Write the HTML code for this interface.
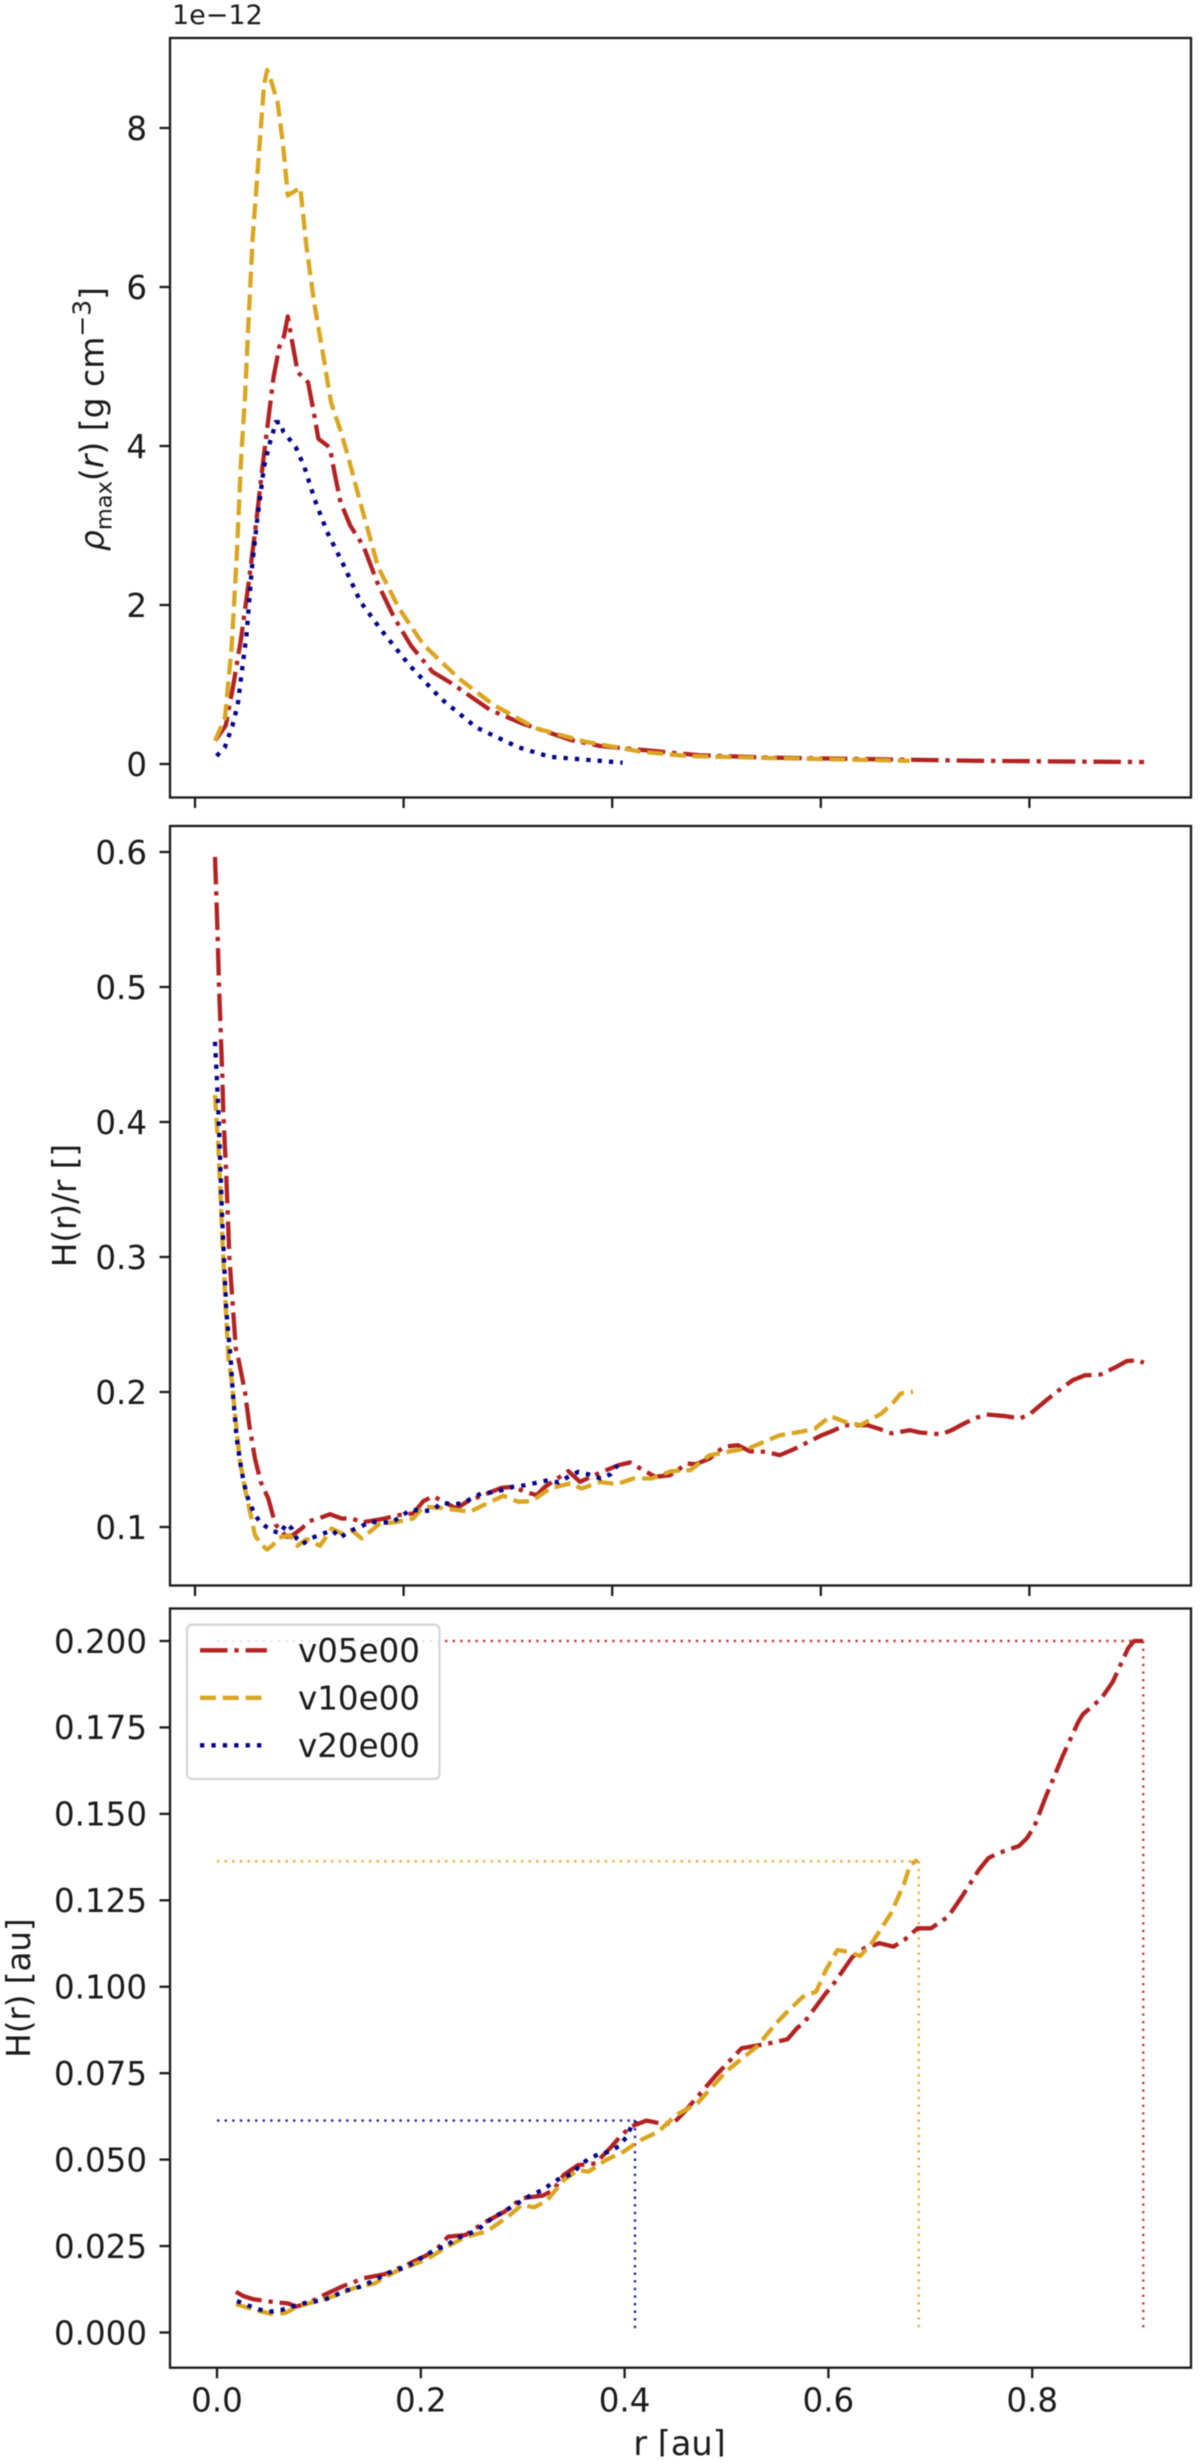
<!DOCTYPE html>
<html lang="en">
<head>
<meta charset="utf-8">
<title>Disc profiles</title>
<style>
html,body{margin:0;padding:0;background:#fff;width:1200px;height:2463px;overflow:hidden}
svg{display:block;filter:blur(0.6px)}
text{font-family:"DejaVu Sans","Liberation Sans",sans-serif;fill:#1a1a1a}
</style>
</head>
<body>
<svg id="chart" xmlns="http://www.w3.org/2000/svg" width="1200" height="2463" viewBox="0 0 1200 2463"></svg>
<script>
const xTicks = [0, 0.2, 0.4, 0.6, 0.8];
const xTickLabels = ['0.0', '0.2', '0.4', '0.6', '0.8'];
const rhoTicks = [0, 2, 4, 6, 8];
const rhoTickLabels = ['0', '2', '4', '6', '8'];
const ratioTicks = [0.1, 0.2, 0.3, 0.4, 0.5, 0.6];
const ratioTickLabels = ['0.1', '0.2', '0.3', '0.4', '0.5', '0.6'];
const heightTicks = [0, 0.025, 0.05, 0.075, 0.1, 0.125, 0.15, 0.175, 0.2];
const heightTickLabels = ['0.000', '0.025', '0.050', '0.075', '0.100', '0.125', '0.150', '0.175', '0.200'];
const seriesNames = ['v05e00', 'v10e00', 'v20e00'];

const rhoRedR = [.0193,.0295,.0368,.0442,.0516,.0589,.0644,.0699,.0754,.0809,.0853,.0890,.0926,.0985,.1084,.1139,.1183,.1293,.1341,.1396,.1488,.1616,.1745,.1910,.2075,.2277,.2460,.2830,.3133,.3604,.3883,.484,.55,.65,.75,.85,.91];
const rhoRedV = [.293,.486,1.0,1.58,2.29,3.06,3.71,4.29,4.87,5.25,5.38,5.63,5.35,4.93,4.80,4.42,4.09,3.98,3.64,3.29,3.0,2.74,2.29,1.84,1.48,1.16,1.015,.679,.512,.302,.227,.11,.08,.06,.04,.03,.025];
const rhoGoldR = [.0193,.0288,.0350,.0398,.0442,.0479,.0516,.0552,.0607,.0662,.0691,.0735,.0794,.0846,.0890,.1010,.1066,.1139,.1231,.1304,.1396,.1467,.1587,.1755,.1955,.2192,.2528,.2864,.3268,.3741,.4275,.4713,.55,.685];
const rhoGoldV = [.293,.583,1.45,2.55,3.84,4.61,5.64,6.60,7.57,8.54,8.73,8.57,8.31,7.77,7.15,7.25,6.54,5.83,5.13,4.55,4.19,3.87,3.28,2.48,1.96,1.497,1.078,.742,.449,.28,.155,.10,.075,.04];
const rhoBlueR = [.0207,.0285,.0359,.0410,.0450,.0494,.0544,.0594,.0662,.0712,.0746,.0773,.0820,.0847,.0965,.1048,.1150,.1267,.1418,.1587,.1788,.2058,.2360,.2696,.3100,.3403,.4100];
const rhoBlueV = [.101,.206,.48,.75,1.17,1.62,2.44,3.05,3.74,4.02,4.16,4.30,4.30,4.18,3.99,3.74,3.32,2.92,2.52,2.04,1.68,1.24,.82,.46,.21,.09,.016];

const ratioRedR = [.0192,.0201,.0218,.0230,.0246,.0262,.0271,.030,.033,.0391,.0415,.0479,.0521,.0575,.0630,.0703,.0751,.0777,.0879,.0927,.1023,.1093,.1182,.1294,.1406,.1508,.1598,.1822,.1934,.2093,.2189,.2285,.2413,.2509,.2605,.2764,.2940,.3052,.3164,.3276,.3356,.3500,.3579,.3691,.3867,.4059,.4171,.4410,.4554,.4650,.4714,.4800,.4934,.5069,.5203,.5321,.5472,.5607,.5741,.6010,.6128,.6229,.6448,.6548,.6683,.6851,.6951,.7153,.7254,.7373,.7490,.7590,.7776,.7910,.8011,.8163,.8264,.8415,.8533,.8684,.8835,.8930,.9037,.9098];
const ratioRedV = [.5964,.5754,.5359,.5013,.4668,.4347,.4075,.36,.30,.2322,.2248,.2001,.1754,.1507,.1334,.1211,.1075,.1013,.0927,.0935,.0989,.1043,.1063,.1095,.1063,.1063,.1033,.1063,.1087,.11,.1191,.1228,.1174,.1137,.1187,.1236,.1290,.1298,.1261,.1236,.1298,.1372,.1414,.1335,.1396,.1458,.1478,.1372,.1384,.1433,.1470,.1465,.1507,.1594,.1606,.1561,.1557,.1532,.1576,.1680,.1717,.1754,.1754,.1730,.1693,.1717,.1700,.1687,.1717,.1767,.1809,.1833,.1821,.1804,.1841,.1939,.2002,.2087,.2124,.2130,.2187,.2228,.2236,.2216];
const ratioGoldR = [.0192,.0225,.027,.0320,.0352,.0384,.0431,.0479,.0527,.0575,.0639,.0693,.0745,.0799,.0911,.0981,.1071,.1198,.1311,.1406,.1502,.1598,.1774,.1901,.2093,.2189,.2349,.2637,.2797,.2956,.3100,.3228,.3404,.3595,.3708,.3883,.4043,.4203,.4379,.4564,.4749,.4934,.5136,.5321,.5607,.5808,.5943,.6094,.6229,.6380,.6582,.6700,.6767,.6884];
const ratioGoldV = [.4199,.38,.30,.2248,.2087,.1828,.1483,.1285,.1113,.0939,.0865,.0833,.0865,.092,.0939,.0861,.091,.0861,.0989,.0952,.0976,.0915,.1026,.1033,.1063,.115,.1142,.1113,.1174,.1231,.1187,.1191,.1285,.1322,.1285,.1333,.1317,.1359,.1359,.1413,.1421,.1532,.1561,.1587,.168,.1705,.173,.1821,.1779,.1754,.1841,.1927,.1989,.2002];
const ratioBlueR = [.0192,.0208,.0223,.026,.030,.0342,.0361,.0400,.0448,.0496,.0575,.0639,.0729,.0815,.0879,.0927,.0975,.1029,.1125,.1230,.1317,.1390,.1486,.1582,.1678,.1886,.1982,.2071,.2173,.2279,.2365,.2461,.2557,.2653,.2742,.2845,.2946,.3052,.3164,.3269,.3388,.3484,.3579,.3675,.3778,.3890,.3986,.4053];
const ratioBlueV = [.4594,.4347,.41,.33,.26,.2248,.2001,.1656,.1409,.1236,.1087,.1026,.0976,.0952,.1026,.0989,.0915,.0873,.092,.0952,.0976,.092,.0971,.1,.1038,.1031,.1083,.113,.1117,.1124,.1181,.1169,.1174,.1211,.1248,.1256,.1273,.1298,.131,.1327,.1347,.133,.1372,.1409,.1389,.1359,.1391,.1458];

const heightRedR = [.0185,.0255,.0358,.0530,.0702,.0771,.0891,.1029,.1235,.1443,.1649,.1855,.2062,.2165,.2268,.2441,.2612,.2819,.2991,.3197,.3301,.3404,.3543,.3714,.3869,.3955,.4058,.4213,.4316,.4471,.4574,.4671,.49,.5148,.5411,.5598,.5692,.5767,.5974,.6030,.6237,.6349,.6500,.6639,.6744,.6875,.7007,.7176,.7308,.7477,.7570,.7664,.7870,.7946,.8021,.8133,.8303,.8453,.8498,.8678,.8791,.8941,.8998,.909];
const heightRedV = [.0118,.0106,.0096,.0089,.0084,.0075,.0084,.0106,.0134,.0157,.0169,.0195,.0224,.0244,.0277,.0282,.0316,.0349,.0388,.0396,.0412,.0456,.0484,.0489,.0537,.0566,.0595,.0613,.0607,.0603,.0634,.0667,.0745,.0822,.0836,.0848,.088,.0899,.0981,.1,.1087,.1111,.1126,.1116,.1135,.1169,.1169,.1203,.126,.1338,.1372,.1386,.1407,.1429,.1463,.155,.167,.1767,.1788,.1834,.1882,.1979,.2,.2];
const heightGoldR = [.0185,.0375,.0530,.0667,.0788,.0961,.1133,.1339,.1546,.1752,.2062,.2234,.2441,.2647,.2854,.2991,.3112,.3233,.3404,.3543,.3646,.3817,.3989,.4161,.4333,.4505,.4713,.50,.5298,.5486,.5598,.5749,.5880,.5974,.6087,.6200,.6312,.6425,.6613,.6744,.6801,.6875];
const heightGoldV = [.0082,.0065,.0054,.0056,.0075,.0089,.0104,.0128,.0142,.0176,.0212,.0244,.0277,.0292,.0335,.0369,.0362,.038,.0441,.047,.0465,.0499,.0523,.0557,.0581,.0629,.0663,.0756,.0827,.0894,.0928,.0971,.0986,.1048,.1106,.1101,.1089,.1126,.1212,.1299,.1352,.1367];
const heightBlueR = [.0196,.0306,.0409,.0513,.0633,.0736,.0840,.0943,.1046,.1149,.1253,.1356,.1459,.1562,.1656,.1763,.1866,.1959,.2051,.2148,.2251,.2338,.2441,.2544,.2630,.2709,.2813,.2905,.3002,.3094,.3197,.3284,.3377,.3484,.3559,.3645,.3749,.3852,.3945,.4014,.4065,.4110];
const heightBlueV = [.0091,.0078,.0067,.006,.0065,.0075,.0084,.0089,.0094,.0106,.0121,.0127,.0139,.0154,.0169,.0181,.019,.0208,.0224,.0241,.025,.0271,.0282,.0294,.0314,.0333,.0349,.0366,.0383,.04,.0412,.0431,.0448,.0458,.0482,.0502,.0516,.0523,.0539,.0564,.0595,.0613];

const guideR = [0.909, 0.6887, 0.4102];
const guideH = [0.2, 0.1363, 0.0613];

const NS = 'http://www.w3.org/2000/svg';
const svg = document.getElementById('chart');
const AX_COLOR = '#1a1a1a';
const LEFT = 170, RIGHT = 1191;
const RED = '#b22222', GOLD = '#daa520', BLUE = '#00008b';
const LW = 4.3;
const DASH_RED = '27.5 6.9 4.3 6.9';
const DASH_GOLD = '15.9 6.9';
const DASH_BLUE = '4.3 7.1';

const xTop = r => 195 + 1043 * r;
const xBottom = r => 217 + 1019 * r;
const yRho = v => 764 - 79.5 * v;
const yRatio = v => 1662 - 1350 * v;
const yHeight = v => 2332.5 - 3457.5 * v;

function node(tag, parent, name, interactable) {
  const el = document.createElementNS(NS, tag);
  
  
  parent.appendChild(el);
  return el;
}
function seg(parent, name, x1, y1, x2, y2, color, width, dash, opacity) {
  const l = node('line', parent, name, false);
  l.setAttribute('x1', x1); l.setAttribute('y1', y1);
  l.setAttribute('x2', x2); l.setAttribute('y2', y2);
  l.setAttribute('stroke', color);
  l.setAttribute('stroke-width', width);
  if (dash) l.setAttribute('stroke-dasharray', dash);
  if (opacity) l.setAttribute('stroke-opacity', opacity);
  return l;
}
function label(parent, name, x, y, str, size, anchor) {
  const t = node('text', parent, name, false);
  t.setAttribute('x', x); t.setAttribute('y', y);
  t.setAttribute('font-size', size);
  t.setAttribute('text-anchor', anchor);
  t.textContent = str;
  return t;
}
function curve(parent, name, rs, vs, xf, yf, color, dash) {
  const p = node('polyline', parent, name, false);
  p.setAttribute('points', rs.map((r, i) => xf(r).toFixed(1) + ',' + yf(vs[i]).toFixed(1)).join(' '));
  p.setAttribute('fill', 'none');
  p.setAttribute('stroke', color);
  p.setAttribute('stroke-width', LW);
  p.setAttribute('stroke-dasharray', dash);
  p.setAttribute('stroke-linejoin', 'round');
  return p;
}
function panel(name, top, bottom, xf, yf, yT, yL, showX) {
  const g = node('g', svg, name, false);
  const frame = node('rect', g, name + '-frame', false);
  frame.setAttribute('x', LEFT); frame.setAttribute('y', top);
  frame.setAttribute('width', RIGHT - LEFT); frame.setAttribute('height', bottom - top);
  frame.setAttribute('fill', 'none');
  frame.setAttribute('stroke', AX_COLOR);
  frame.setAttribute('stroke-width', 2.3);
  xTicks.forEach((r, i) => {
    seg(g, name + '-x-tick', xf(r), bottom, xf(r), bottom + 10.5, AX_COLOR, 2.3);
    if (showX) label(g, name + '-x-tick-label', xf(r), bottom + 44, xTickLabels[i], 32.5, 'middle');
  });
  yT.forEach((v, i) => {
    seg(g, name + '-y-tick', LEFT, yf(v), LEFT - 10.5, yf(v), AX_COLOR, 2.3);
    label(g, name + '-y-tick-label', 147, yf(v) + 11.8, yL[i], 32.5, 'end');
  });
  return g;
}

const p1 = panel('density-panel', 38, 797.5, xTop, yRho, rhoTicks, rhoTickLabels, false);
curve(p1, 'density-line-v05e00', rhoRedR, rhoRedV, xTop, yRho, RED, DASH_RED);
curve(p1, 'density-line-v10e00', rhoGoldR, rhoGoldV, xTop, yRho, GOLD, DASH_GOLD);
curve(p1, 'density-line-v20e00', rhoBlueR, rhoBlueV, xTop, yRho, BLUE, DASH_BLUE);
label(p1, 'density-offset-text', 172, 24, '1e\u221212', 27, 'start');

const yl1 = node('text', p1, 'density-y-axis-title', false);
yl1.setAttribute('transform', 'translate(103.5,419) rotate(-90)');
yl1.setAttribute('font-size', 33);
yl1.setAttribute('text-anchor', 'middle');
[['\u03c1', 'italic', 33, 0], ['max', 'normal', 22.5, 8], ['(', 'normal', 33, -8], ['r', 'italic', 33, 0], [') [g cm', 'normal', 33, 0], ['\u22123', 'normal', 25, -13], [']', 'normal', 33, 13]].forEach(s => {
  const ts = document.createElementNS(NS, 'tspan');
  ts.textContent = s[0];
  ts.setAttribute('font-style', s[1]);
  ts.setAttribute('font-size', s[2]);
  ts.setAttribute('dy', s[3]);
  yl1.appendChild(ts);
});

const p2 = panel('aspect-ratio-panel', 826, 1585.5, xTop, yRatio, ratioTicks, ratioTickLabels, false);
curve(p2, 'aspect-ratio-line-v05e00', ratioRedR, ratioRedV, xTop, yRatio, RED, DASH_RED);
curve(p2, 'aspect-ratio-line-v10e00', ratioGoldR, ratioGoldV, xTop, yRatio, GOLD, DASH_GOLD);
curve(p2, 'aspect-ratio-line-v20e00', ratioBlueR, ratioBlueV, xTop, yRatio, BLUE, DASH_BLUE);
const yl2 = label(p2, 'aspect-ratio-y-axis-title', 0, 0, 'H(r)/r []', 32.5, 'middle');
yl2.setAttribute('transform', 'translate(76,1205.5) rotate(-90)');

const p3 = panel('scale-height-panel', 1608.5, 2367.7, xBottom, yHeight, heightTicks, heightTickLabels, true);
[RED, GOLD, BLUE].forEach((c, i) => {
  const nm = seriesNames[i];
  const dash = '2.4 5.2';
  seg(p3, 'guide-horizontal-' + nm, xBottom(0), yHeight(guideH[i]), xBottom(guideR[i]), yHeight(guideH[i]), c, 2.4, dash, 0.85);
  seg(p3, 'guide-vertical-' + nm, xBottom(guideR[i]), yHeight(guideH[i]), xBottom(guideR[i]), yHeight(0), c, 2.4, dash, 0.85);
});
curve(p3, 'scale-height-line-v05e00', heightRedR, heightRedV, xBottom, yHeight, RED, DASH_RED);
curve(p3, 'scale-height-line-v10e00', heightGoldR, heightGoldV, xBottom, yHeight, GOLD, DASH_GOLD);
curve(p3, 'scale-height-line-v20e00', heightBlueR, heightBlueV, xBottom, yHeight, BLUE, DASH_BLUE);
const yl3 = label(p3, 'scale-height-y-axis-title', 0, 0, 'H(r) [au]', 32.5, 'middle');
yl3.setAttribute('transform', 'translate(30,1988) rotate(-90)');
label(p3, 'x-axis-title', 679.5, 2455, 'r [au]', 33.5, 'middle');
const bottomCrop = node('rect', svg, 'bottom-edge-crop', false);
bottomCrop.setAttribute('x', 0);
bottomCrop.setAttribute('y', 2456.5);
bottomCrop.setAttribute('width', 1200);
bottomCrop.setAttribute('height', 10);
bottomCrop.setAttribute('fill', '#fff');

const legend = node('g', svg, 'legend', false);
const box = node('rect', legend, 'legend-box', false);
box.setAttribute('x', 187); box.setAttribute('y', 1624.7);
box.setAttribute('width', 252.5); box.setAttribute('height', 154.3);
box.setAttribute('rx', 5);
box.setAttribute('fill', '#fff');
box.setAttribute('fill-opacity', 0.85);
box.setAttribute('stroke', '#d6d6d6');
box.setAttribute('stroke-width', 2.3);
[[RED, DASH_RED], [GOLD, DASH_GOLD], [BLUE, DASH_BLUE]].forEach((s, i) => {
  const y = 1650.3 + i * 47.5;
  seg(legend, 'legend-handle-' + seriesNames[i], 200, y, 267, y, s[0], LW, s[1]);
  label(legend, 'legend-entry-' + seriesNames[i], 298, y + 11.5, seriesNames[i], 32.5, 'start');
});
</script>
</body>
</html>
